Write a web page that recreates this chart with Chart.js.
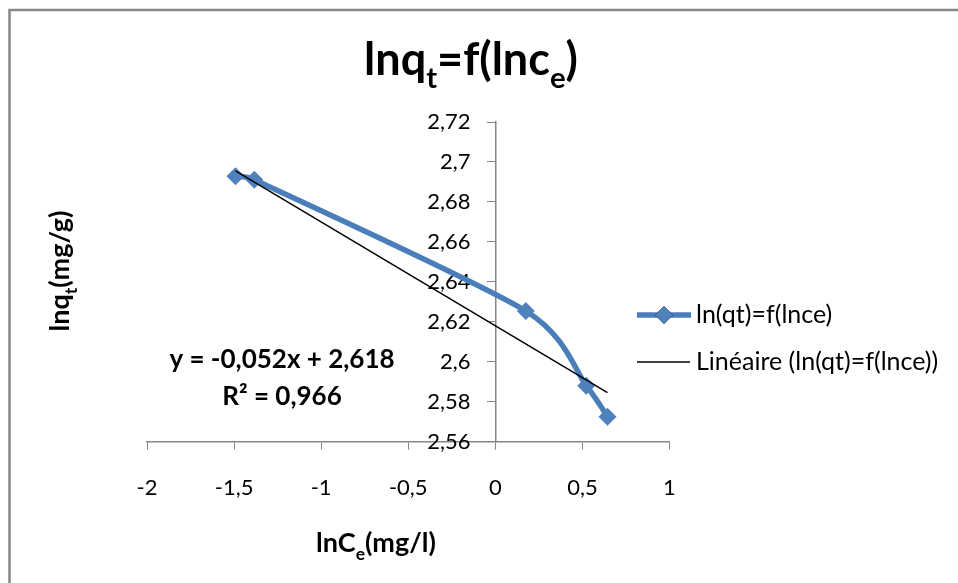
<!DOCTYPE html>
<html>
<head>
<meta charset="utf-8">
<script src="https://cdn.jsdelivr.net/npm/chart.js@4.4.1/dist/chart.umd.min.js"></script>
<style>
  html, body { margin: 0; padding: 0; background: #fff; }
  #wrap { width: 958px; height: 583px; }
</style>
</head>
<body>
<div id="wrap"><canvas id="myChart" width="958" height="583"></canvas></div>
<script>
// ln(Ce) / ln(qt) measurements
const lnCe = [-1.492, -1.384, 0.175, 0.522, 0.644];
const lnQt = [2.6928, 2.6911, 2.6254, 2.588, 2.5725];

// linear fit shown on the chart
const slope = -0.052;
const intercept = 2.618;
const r2 = 0.966;

const seriesName = 'ln(qt)=f(lnce)';
const trendName = 'Linéaire (ln(qt)=f(lnce))';

const FONT = 'Lato, "Open Sans", sans-serif';
const BLUE = '#4a7ebb';

const comma = v => String(Math.round(v * 100) / 100).replace('.', ',');
const fixed3 = v => v.toFixed(3).replace('.', ',');

const points = lnCe.map((x, i) => ({ x: x, y: lnQt[i] }));
const xLo = Math.min(...lnCe), xHi = Math.max(...lnCe);
const trend = [xLo, xHi].map(x => ({ x: x, y: slope * x + intercept }));

// bold text with subscripts on an alphabetic baseline, parts = [[text, isSub], ...]
function richText(ctx, parts, x, y, size) {
  ctx.save();
  ctx.textBaseline = 'alphabetic';
  ctx.textAlign = 'left';
  const subSize = size * 0.65;
  let total = 0;
  const widths = parts.map(p => {
    ctx.font = 'bold ' + (p[1] ? subSize : size) + 'px ' + FONT;
    const w = ctx.measureText(p[0]).width;
    total += w;
    return w;
  });
  let cx = x - total / 2;
  parts.forEach((p, i) => {
    ctx.font = 'bold ' + (p[1] ? subSize : size) + 'px ' + FONT;
    ctx.fillText(p[0], cx, p[1] ? y + size * 0.28 : y);
    cx += widths[i];
  });
  ctx.restore();
}

// Catmull-Rom style smoothing: arms at 1/6 of the neighbour span,
// shortened so they never pass half of the shorter adjacent segment
const smoothLine = {
  id: 'smoothLine',
  beforeDatasetDraw(chart, args) {
    if (args.index !== 0) return;
    const line = args.meta.dataset;
    const pts = args.meta.data;
    const n = pts.length;
    line.updateControlPoints(chart.chartArea, 'x');
    pts.forEach((p, i) => {
      const prev = pts[Math.max(i - 1, 0)];
      const next = pts[Math.min(i + 1, n - 1)];
      const sx = next.x - prev.x;
      const sy = next.y - prev.y;
      let f = 1 / 6;
      if (i > 0 && i < n - 1) {
        const span = Math.hypot(sx, sy);
        const dPrev = Math.hypot(p.x - prev.x, p.y - prev.y);
        const dNext = Math.hypot(next.x - p.x, next.y - p.y);
        f = Math.min(f, Math.min(dPrev, dNext) / (2 * span));
      }
      p.cp1x = p.x - sx * f;
      p.cp1y = p.y - sy * f;
      p.cp2x = p.x + sx * f;
      p.cp2y = p.y + sy * f;
    });
    delete line._path;
  }
};

const decorations = {
  id: 'decorations',
  afterDraw(chart) {
    const ctx = chart.ctx;
    ctx.save();
    ctx.fillStyle = '#000';

    // outer frame
    ctx.strokeStyle = '#878787';
    ctx.lineWidth = 2.5;
    ctx.strokeRect(9.5, 10, 960, 600);

    // title
    richText(ctx, [['lnq', false], ['t', true], ['=f(lnc', false], ['e', true], [')', false]], 471, 75, 45);

    // axis titles
    richText(ctx, [['lnC', false], ['e', true], ['(mg/l)', false]], 376, 552, 27);
    ctx.save();
    ctx.translate(69, 271);
    ctx.rotate(-Math.PI / 2);
    richText(ctx, [['lnq', false], ['t', true], ['(mg/g)', false]], 0, 0, 27);
    ctx.restore();

    // regression equation
    ctx.font = 'bold 26px ' + FONT;
    ctx.textAlign = 'center';
    ctx.textBaseline = 'alphabetic';
    const sign = intercept < 0 ? '- ' : '+ ';
    ctx.fillText('y = ' + fixed3(slope) + 'x ' + sign + fixed3(Math.abs(intercept)), 282, 368);
    ctx.fillText('R² = ' + fixed3(r2), 282, 405);

    // legend
    ctx.font = '25px ' + FONT;
    ctx.textAlign = 'left';
    ctx.textBaseline = 'middle';
    ctx.strokeStyle = BLUE;
    ctx.lineWidth = 5.5;
    ctx.beginPath();
    ctx.moveTo(637, 315);
    ctx.lineTo(691, 315);
    ctx.stroke();
    Chart.helpers.drawPoint(ctx, { pointStyle: 'rectRot', radius: 9, borderWidth: 0 }, 664, 315);
    ctx.fillStyle = '#4f81bd';
    ctx.fill();
    ctx.fillStyle = '#000';
    ctx.fillText(seriesName, 696, 315);

    ctx.strokeStyle = '#000';
    ctx.lineWidth = 1.5;
    ctx.beginPath();
    ctx.moveTo(637, 362);
    ctx.lineTo(690, 362);
    ctx.stroke();
    ctx.fillText(trendName, 696, 362);

    ctx.restore();
  }
};

new Chart(document.getElementById('myChart'), {
  type: 'scatter',
  data: {
    datasets: [{
      label: seriesName,
      data: points,
      showLine: true,
      borderColor: BLUE,
      borderWidth: 5.5,
      tension: 0.4,
      capBezierPoints: false,
      pointStyle: 'rectRot',
      pointRadius: 9,
      pointBorderWidth: 0,
      pointBackgroundColor: '#4f81bd',
      order: 2
    }, {
      label: trendName,
      data: trend,
      showLine: true,
      borderColor: '#000',
      borderWidth: 1.5,
      pointRadius: 0,
      tension: 0,
      order: 1
    }]
  },
  options: {
    responsive: false,
    animation: false,
    events: [],
    layout: {
      padding: { left: 147, right: 288.5, top: 122, bottom: 57 }
    },
    scales: {
      x: {
        type: 'linear',
        min: -2,
        max: 1,
        ticks: {
          stepSize: 0.5,
          padding: 25,
          color: '#000',
          font: { family: FONT, size: 22 },
          callback: v => comma(v)
        },
        grid: { drawOnChartArea: false, tickLength: 8, color: '#868686' },
        border: { color: '#868686', width: 1.5 }
      },
      y: {
        type: 'linear',
        position: { x: 0 },
        min: 2.56,
        max: 2.72,
        ticks: {
          stepSize: 0.02,
          color: '#000',
          font: { family: FONT, size: 22 },
          // labels sit right-aligned on the crossing line, so pad them away from it
          callback: v => comma(v) + '\u2002\u2002\u2009'
        },
        grid: { drawOnChartArea: false, tickLength: 8, color: '#868686' },
        border: { color: '#868686', width: 1.5 }
      }
    },
    plugins: {
      legend: { display: false },
      title: { display: false },
      tooltip: { enabled: false }
    }
  },
  plugins: [smoothLine, decorations]
});
</script>
</body>
</html>
